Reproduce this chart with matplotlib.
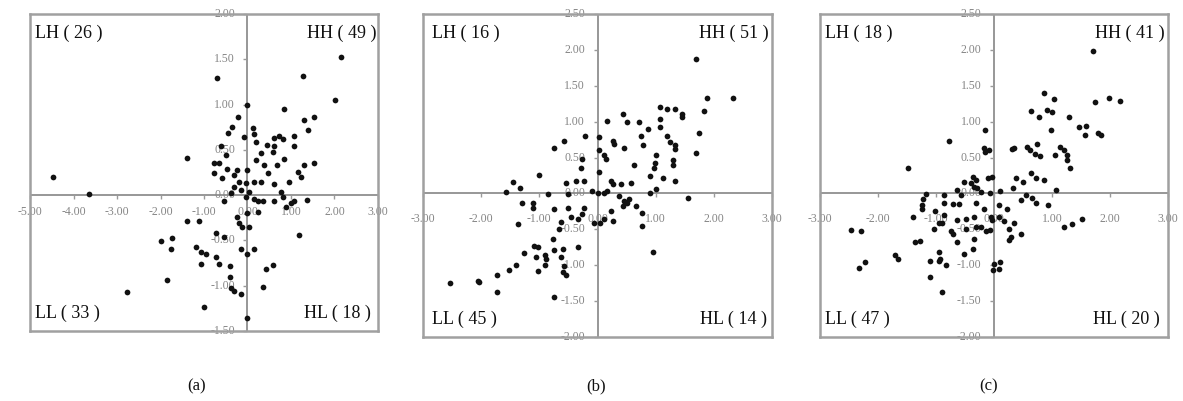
import matplotlib
matplotlib.use("Agg")
import matplotlib.pyplot as plt
from matplotlib.markers import TICKDOWN, TICKLEFT

plt.rcParams['font.family'] = ['Liberation Serif', 'DejaVu Serif']

# --- data ---
# panel (a)
xa = [2.14, 1.27, -0.71, 2.02, 0.0, 0.85, -0.22, 1.31, 1.54, 1.38, -0.36, -0.44, 0.12, 0.15,
      -0.08, 0.19, 0.44, 0.62, 0.73, 0.81, 1.08, 1.08, 0.62, 0.58, 0.32, -0.62, -1.38, -0.50,
      -0.77, -0.65, -0.46, -0.23, 0.0, 0.19, 0.38, 0.46, 0.68, 0.85, 1.54, 1.31, 1.15, 1.23,
      -0.77, -0.58, -0.31, -4.46, -3.65, -0.19, -0.04, 0.15, 0.31, 0.62, 0.96, -0.31, -0.15,
      0.04, -0.38, -0.54, -0.04, 0.15, 0.23, 0.35, 0.62, 0.77, 0.81, 0.88, 1.0, 1.08, 1.37,
      0.23, -0.23, 0.0, -0.19, -0.12, 0.04, -1.38, -1.12, -2.0, -1.73, -1.77, -0.73, -0.54,
      1.18, -1.19, -1.08, -0.96, -0.73, -0.15, 0.0, 0.15, -1.08, -0.65, -0.40, 0.42, 0.58,
      -0.40, -1.85, -0.38, -0.31, -0.15, 0.35, -2.77, -1.0, 0.0]
ya = [1.52, 1.32, 1.29, 1.05, 0.99, 0.95, 0.86, 0.83, 0.86, 0.72, 0.75, 0.69, 0.74, 0.67,
      0.64, 0.59, 0.55, 0.63, 0.65, 0.62, 0.65, 0.54, 0.54, 0.48, 0.46, 0.54, 0.41, 0.44,
      0.35, 0.35, 0.29, 0.28, 0.28, 0.39, 0.33, 0.24, 0.33, 0.40, 0.36, 0.33, 0.26, 0.20,
      0.24, 0.19, 0.22, 0.20, 0.01, 0.15, 0.13, 0.14, 0.14, 0.12, 0.14, 0.09, 0.06,
      0.04, 0.02, -0.07, -0.02, -0.04, -0.07, -0.06, -0.07, 0.04, -0.02, -0.13, -0.09, -0.06, -0.05,
      -0.19, -0.24, -0.20, -0.31, -0.35, -0.35, -0.28, -0.29, -0.51, -0.47, -0.60, -0.42, -0.46,
      -0.44, -0.57, -0.63, -0.65, -0.68, -0.59, -0.65, -0.60, -0.76, -0.76, -0.78, -0.81, -0.77,
      -0.90, -0.94, -1.02, -1.06, -1.09, -1.01, -1.07, -1.23, -1.36]

# panel (b)
xb = [1.70, 1.89, 2.33, 1.83, 1.74, 1.69, 1.07, 1.20, 1.33, 1.46, 1.46, 1.07, 1.07, 1.19,
      1.25, 1.33, 1.33, 1.29, 1.30, 1.33, 1.13, 1.0, 0.98, 0.97, 0.90, 1.0, 0.91, 1.56,
      0.86, 0.71, 0.74, 0.79, 0.63, 0.57, 0.43, 0.51, 0.26, 0.29, 0.45, 0.16, 0.03, 0.11,
      0.03, 0.14, 0.03, 0.23, 0.27, 0.40, 0.17, 0.11, -0.09, 0.0, 0.37, 0.46, 0.43, 0.54,
      0.51, 0.67, 0.77, 0.77, 0.23, 0.26, -0.06, 0.05, 0.11, 0.96, -0.21, -0.26, -0.29,
      -0.23, -0.37, -0.57, -0.74, -0.54, -0.85, -0.51, -1.0, -1.34, -1.46, -1.57, -1.29,
      -1.11, -1.11, -1.36, -0.74, -0.51, -0.23, -0.26, -0.46, -0.34, -0.63, -0.66, -0.77,
      -0.34, -1.09, -1.03, -1.26, -1.06, -0.91, -0.89, -0.75, -0.60, -0.63, -0.58, -0.60,
      -0.54, -0.90, -1.03, -1.40, -1.53, -1.73, -2.06, -2.03, -2.53, -1.73, -0.74]
yb = [1.88, 1.33, 1.33, 1.15, 0.84, 0.56, 1.20, 1.18, 1.18, 1.11, 1.07, 1.04, 0.92, 0.80,
      0.71, 0.67, 0.62, 0.46, 0.40, 0.18, 0.21, 0.53, 0.43, 0.36, 0.24, 0.06, 0.01, -0.07,
      0.90, 0.99, 0.80, 0.67, 0.39, 0.15, 1.11, 0.99, 0.73, 0.69, 0.63, 1.01, 0.78, 0.53,
      0.60, 0.48, 0.30, 0.18, 0.13, 0.13, 0.04, 0.01, 0.03, 0.01, -0.03, -0.10, -0.17, -0.08,
      -0.13, -0.17, -0.27, -0.45, -0.24, -0.38, -0.41, -0.41, -0.36, -0.82, 0.80, 0.48, 0.36,
      0.18, 0.18, 0.73, 0.64, 0.15, -0.01, -0.01, 0.26, 0.08, 0.16, 0.02, -0.13,
      -0.13, -0.20, -0.43, -0.21, -0.20, -0.20, -0.29, -0.33, -0.36, -0.40, -0.50, -0.63,
      -0.75, -0.73, -0.74, -0.83, -0.89, -0.86, -0.92, -0.79, -0.77, -0.88, -1.01, -1.09,
      -1.14, -0.99, -1.08, -0.99, -1.07, -1.13, -1.22, -1.24, -1.25, -1.38, -1.44]

# panel (c)
xc = [1.70, 0.86, 1.03, 1.74, 1.99, 2.18, 0.64, 0.91, 1.0, 0.77, 1.30, 0.99, 1.47, 1.59,
      1.57, 1.80, 1.84, -0.15, -0.78, -0.17, -0.09, -0.15, 0.31, 0.35, 0.57, 0.62, 0.74,
      0.71, 0.79, 1.06, 1.13, 1.20, 1.25, 1.26, 1.31, -1.49, 0.63, 0.73, 0.86, 0.38, 0.50,
      1.07, -0.03, -0.11, -0.37, -0.31, -0.51, -0.40, -0.34, -0.29, -0.23, -0.07, 0.11,
      0.33, -0.63, -0.57, -0.86, -1.17, -1.23, -1.25, -1.24, -0.87, -0.60, -0.71, -0.31,
      -0.17, 0.09, 0.23, 0.46, 0.56, 0.66, 0.73, 0.93, -1.02, -1.40, -0.86, -0.94, -0.89,
      -1.04, -0.74, -0.63, -0.49, -0.49, -0.34, -0.31, -0.23, -0.14, -0.07, -0.06, -0.03,
      0.09, 0.17, 0.26, 0.34, 0.46, 0.29, 0.26, 1.21, 1.34, 1.51, -2.46, -2.29, -1.37,
      -1.27, -0.63, -0.70, -0.35, -0.51, -0.37, -1.71, -1.66, -1.11, -0.94, -0.94, -0.93,
      -0.83, -2.22, -2.33, 0.0, 0.10, 0.09, -0.01, -1.11, -0.89]
yc = [1.99, 1.40, 1.31, 1.27, 1.33, 1.29, 1.15, 1.16, 1.13, 1.06, 1.07, 0.89, 0.93, 0.94,
      0.81, 0.84, 0.81, 0.89, 0.73, 0.63, 0.60, 0.58, 0.62, 0.64, 0.65, 0.61, 0.69,
      0.55, 0.52, 0.53, 0.65, 0.61, 0.53, 0.47, 0.35, 0.35, 0.29, 0.21, 0.19, 0.22, 0.16,
      0.05, 0.23, 0.21, 0.23, 0.19, 0.16, 0.14, 0.09, 0.07, 0.02, 0.01, 0.03,
      0.07, 0.05, -0.02, -0.02, -0.01, -0.08, -0.16, -0.21, -0.13, -0.15, -0.15, -0.14,
      -0.21, -0.16, -0.21, -0.09, -0.02, -0.06, -0.13, -0.16, -0.24, -0.33, -0.30, -0.41, -0.41,
      -0.49, -0.53, -0.37, -0.36, -0.49, -0.33, -0.47, -0.47, -0.52, -0.51, -0.33, -0.37,
      -0.33, -0.38, -0.49, -0.41, -0.56, -0.60, -0.65, -0.47, -0.42, -0.35, -0.51, -0.53, -0.67,
      -0.66, -0.67, -0.56, -0.64, -0.85, -0.77, -0.86, -0.91, -0.94, -0.81, -0.94, -0.91,
      -1.00, -0.95, -1.04, -0.98, -0.95, -1.05, -1.07, -1.17, -1.37]

xticks_a = [-5, -4, -3, -2, -1, 0, 1, 2, 3]
yticks_a = [-1.5, -1.0, -0.5, 0.0, 0.5, 1.0, 1.5, 2.0]
xticks_bc = [-3, -2, -1, 0, 1, 2, 3]
yticks_bc = [-2.0, -1.5, -1.0, -0.5, 0.0, 0.5, 1.0, 1.5, 2.0, 2.5]

counts_a = {"LH": 26, "HH": 49, "LL": 33, "HL": 18}
counts_b = {"LH": 16, "HH": 51, "LL": 45, "HL": 14}
counts_c = {"LH": 18, "HH": 41, "LL": 47, "HL": 20}
captions = ["(a)", "(b)", "(c)"]

W, H = 1183, 401
fig = plt.figure(figsize=(W / 100, H / 100), dpi=100)


def px_axes(l, t, r, b):
    return fig.add_axes([l / W, 1 - b / H, (r - l) / W, (b - t) / H])


def moran(ax, x, y, xt, yt, counts, xlab_off, label_pos):
    ax.set_xlim(xt[0], xt[-1])
    ax.set_ylim(yt[0], yt[-1])
    ax.set_xticks([])
    ax.set_yticks([])
    for s in ax.spines.values():
        s.set_color('#a0a0a0')
        s.set_linewidth(1.8)
    ax.axhline(0, color='#858585', lw=1.2, zorder=1)
    ax.axvline(0, color='#858585', lw=1.2, zorder=1)
    ax.plot(xt, [0] * len(xt), ls='none', marker=TICKDOWN, ms=3, color='#9a9a9a', clip_on=False)
    ax.plot([0] * len(yt), yt, ls='none', marker=TICKLEFT, ms=3, color='#9a9a9a', clip_on=False)
    for t in xt:
        ax.annotate(f"{t:.2f}", (t, 0), xytext=(0, -xlab_off), textcoords='offset points',
                    ha='center', va='center', fontsize=8.5, color='#858585',
                    annotation_clip=False, zorder=2)
    for t in yt:
        ax.annotate(f"{t:.2f}", (0, t), xytext=(-9, 0), textcoords='offset points',
                    ha='right', va='center', fontsize=8.5, color='#858585',
                    annotation_clip=False, zorder=2)
    ax.scatter(x, y, s=17, color='#111111', zorder=3, linewidths=0)
    (lhx, hhx, llx, hlx) = label_pos
    kw = dict(transform=ax.transAxes, fontsize=13, color='#111111', va='center')
    ax.text(lhx, 0.94, f"LH ( {counts['LH']} )", ha='left', **kw)
    ax.text(hhx, 0.94, f"HH ( {counts['HH']} )", ha='right', **kw)
    ax.text(llx, 0.055, f"LL ( {counts['LL']} )", ha='left', **kw)
    ax.text(hlx, 0.055, f"HL ( {counts['HL']} )", ha='right', **kw)


ax1 = px_axes(30, 14, 378, 331)
moran(ax1, xa, ya, xticks_a, yticks_a, counts_a, 12, (0.015, 0.995, 0.015, 0.98))
ax2 = px_axes(423, 14, 772, 337)
moran(ax2, xb, yb, xticks_bc, yticks_bc, counts_b, 18.5, (0.025, 0.99, 0.025, 0.985))
ax3 = px_axes(820, 14, 1168, 337)
moran(ax3, xc, yc, xticks_bc, yticks_bc, counts_c, 18.5, (0.015, 0.99, 0.015, 0.975))

for cx, cap in zip([197, 596, 989], captions):
    fig.text(cx / W, 1 - 386 / H, cap, ha='center', va='center', fontsize=12, color='#111111')

fig.savefig("out.png", dpi=100)
